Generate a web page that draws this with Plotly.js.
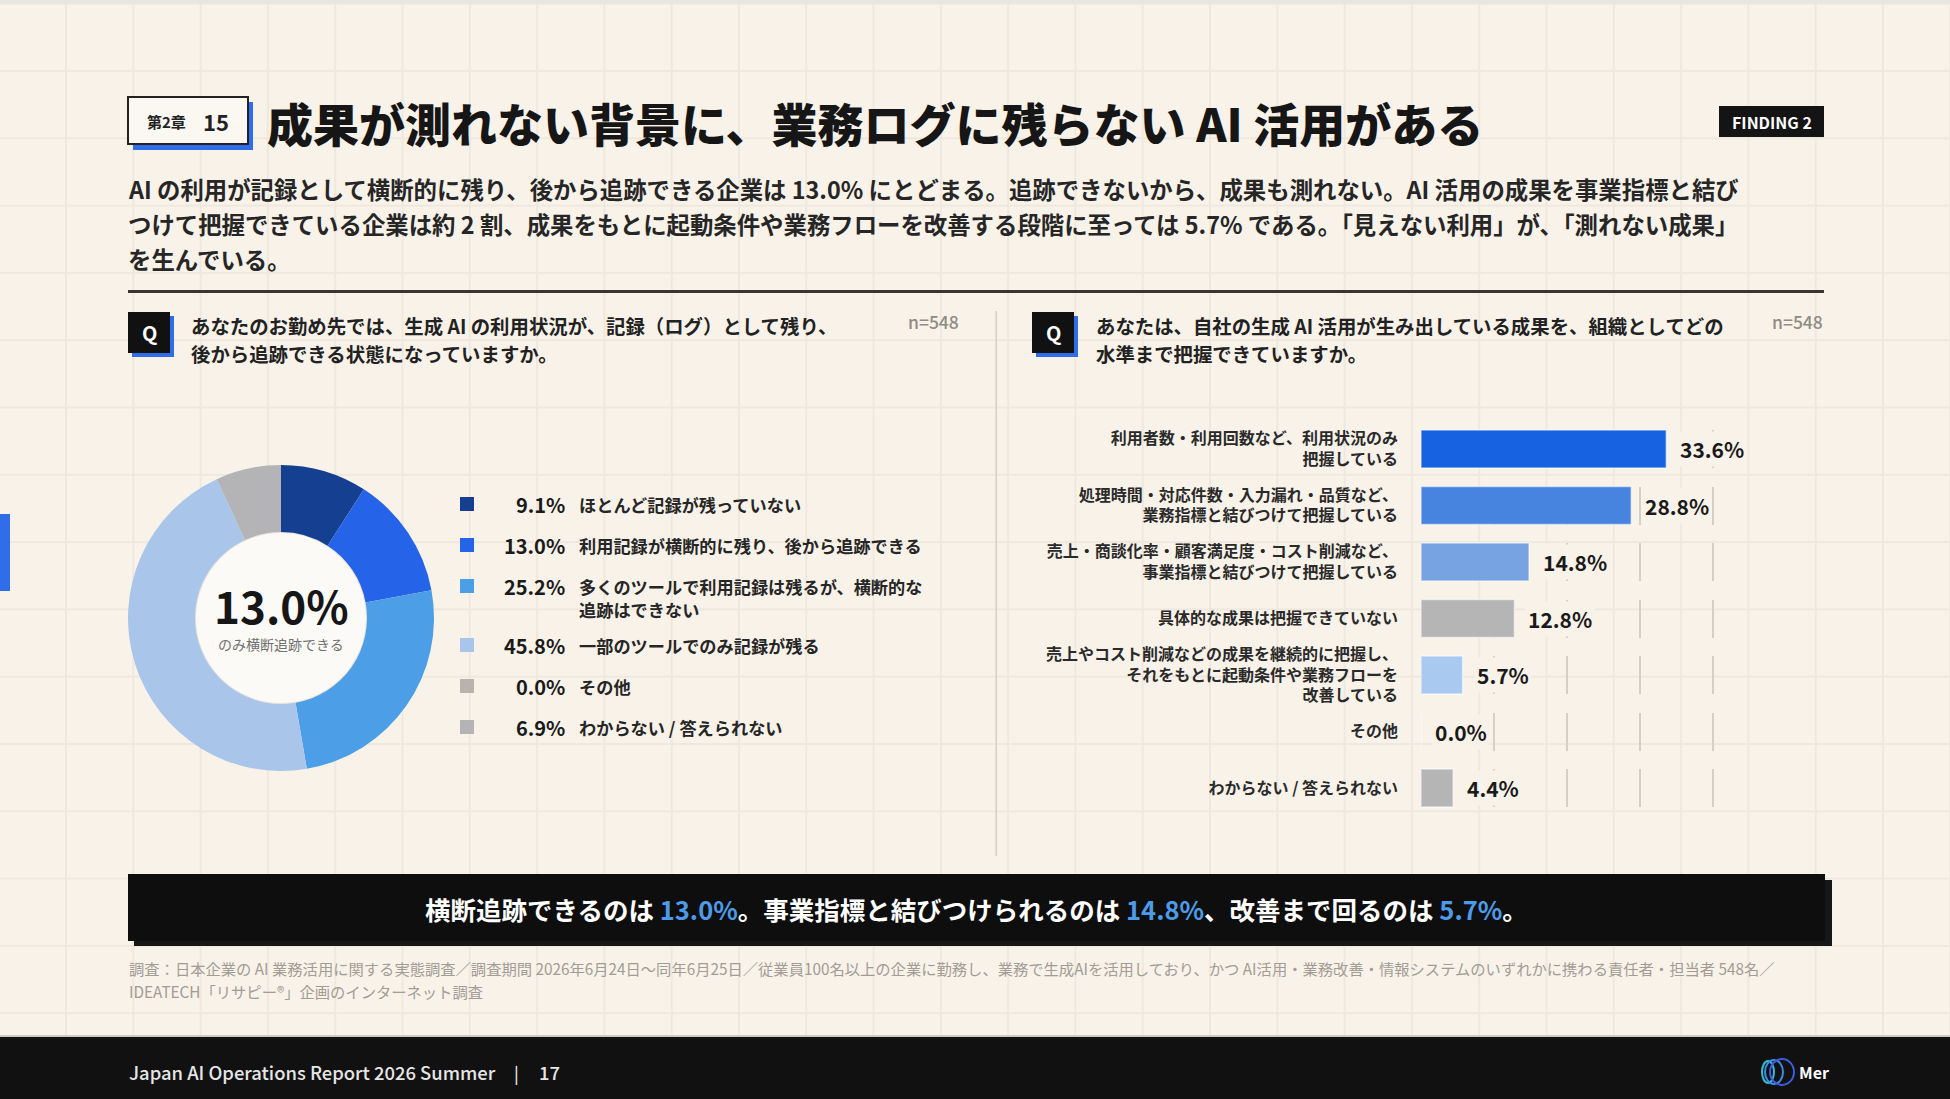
<!DOCTYPE html>
<html>
<head>
<meta charset="utf-8">
<script src="https://cdn.plot.ly/plotly-3.0.1.min.js"></script>
<style>
  html, body { margin:0; padding:0; }
  body {
    width:1950px; height:1099px; overflow:hidden;
    background-color:#f8f2e9;
    background-image:
      linear-gradient(to right, #efe8de 0, #efe8de 2px, transparent 2px),
      linear-gradient(to bottom, #efe8de 0, #efe8de 2px, transparent 2px);
    background-size:67.3px 67.3px;
    background-position:65px 70px;
  }
  #chart { width:1950px; height:1099px; }
</style>
</head>
<body>
<div id="chart"></div>
<script>
// ---------- data ----------
const donutLabels = ['ほとんど記録が残っていない', '利用記録が横断的に残り、後から追跡できる', '多くのツールで利用記録は残るが、横断的な\n追跡はできない', '一部のツールでのみ記録が残る', 'その他', 'わからない / 答えられない'];
const donutValues = [9.1, 13.0, 25.2, 45.8, 0.0, 6.9];
const donutColors = ['#153f91', '#2563e8', '#4c9fe6', '#a9c6ea', '#b8b3ad', '#b4b4b6'];

const barLabels = [
  '利用者数・利用回数など、利用状況のみ<br>把握している',
  '処理時間・対応件数・入力漏れ・品質など、<br>業務指標と結びつけて把握している',
  '売上・商談化率・顧客満足度・コスト削減など、<br>事業指標と結びつけて把握している',
  '具体的な成果は把握できていない',
  '売上やコスト削減などの成果を継続的に把握し、<br>それをもとに起動条件や業務フローを<br>改善している',
  'その他',
  'わからない / 答えられない'
];
const barValues = [33.6, 28.8, 14.8, 12.8, 5.7, 0.0, 4.4];
const barColors = ['#1762e0', '#4684e0', '#78a3e3', '#b5b5b5', '#a9c9f1', '#b5b5b5', '#b5b5b5'];

const xTicks = [0, 10, 20, 30, 40];

// ---------- helpers ----------
const W = 1950, H = 1099;
const PX = x => x / W;
const PY = y => 1 - y / H;
const FONT = '"Noto Sans CJK JP", "Noto Sans", sans-serif';
const shapes = [];
const anns = [];
function rect(x0, y0, x1, y1, fill, line) {
  shapes.push({type:'rect', xref:'paper', yref:'paper', x0:PX(x0), x1:PX(x1), y0:PY(y1), y1:PY(y0),
    fillcolor:fill, line: line || {width:0}, layer:'below'});
}
function circ(cx, cy, rx, ry, fill, line, layer) {
  shapes.push({type:'circle', xref:'paper', yref:'paper', x0:PX(cx-rx), x1:PX(cx+rx), y0:PY(cy+ry), y1:PY(cy-ry),
    fillcolor:fill, line: line || {width:0}, layer: layer || 'above'});
}
function ann(x, y, text, size, color, o) {
  o = o || {};
  anns.push(Object.assign({xref:'paper', yref:'paper', x:PX(x), y:PY(y), text:text, showarrow:false,
    xanchor:o.xa || 'left', yanchor:o.ya || 'middle', align:o.align || 'left',
    font:{family:FONT, size:size, color:color, weight:o.w || 400}}, o.extra || {}));
}
const pct = v => v.toFixed(1) + '%';

// ---------- page chrome ----------
rect(0, 0, W, 4, '#e8e6e3');
// chapter box
rect(133, 102, 253, 150, '#2f6ee8');
rect(128, 97, 248, 144, '#fbf8f2', {color:'#222', width:2});
ann(145, 122, '第2章', 15, '#222', {w:700});
ann(201, 121, '15', 22, '#222', {w:700});
// title
ann(265, 122, '成果が測れない背景に、業務ログに残らない AI 活用がある', 46, '#161616', {w:900});
// finding tag
rect(1719, 106, 1824, 137, '#141414');
ann(1771.5, 121.5, 'FINDING 2', 16, '#ffffff', {xa:'center', w:700});
// lead paragraph
const lead = [
  'AI の利用が記録として横断的に残り、後から追跡できる企業は ' + pct(donutValues[1]) + ' にとどまる。追跡できないから、成果も測れない。AI 活用の成果を事業指標と結び',
  'つけて把握できている企業は約 2 割、成果をもとに起動条件や業務フローを改善する段階に至っては ' + pct(barValues[4]) + ' である。「見えない利用」が、「測れない成果」',
  'を生んでいる。'
];
lead.forEach((t, i) => ann(126, 189 + i * 35, t, 23.4, '#262626', {w:700}));
// rule
rect(128, 290, 1824, 293, '#3a3530');
// divider
rect(995.5, 311, 997, 856, '#d3cec6');

// question blocks
function qblock(x, tx, lines, nx) {
  rect(x + 4, 316, x + 46, 357, '#2f6ee8');
  rect(x, 312, x + 42, 353, '#111111');
  ann(x + 21, 333, 'Q', 20, '#ffffff', {xa:'center', w:700});
  lines.forEach((t, i) => ann(tx, 326 + i * 27, t, 19.4, '#222', {w:700}));
  ann(nx, 322, 'n=548', 17.5, '#8f8b85', {xa:'right', w:500});
}
qblock(128, 189, ['あなたのお勤め先では、生成 AI の利用状況が、記録（ログ）として残り、', '後から追跡できる状態になっていますか。'], 961);
qblock(1032, 1094, ['あなたは、自社の生成 AI 活用が生み出している成果を、組織としてどの', '水準まで把握できていますか。'], 1825);

// left blue tab
rect(0, 514, 10, 591, '#2f6ee8');

// donut hole disk + center text
circ(281, 618, 86, 86, '#fcfaf6', {color:'#e9e3d9', width:2}, 'below');
ann(281, 605, pct(donutValues[1]), 44, '#161616', {xa:'center', w:700});
ann(281, 644, 'のみ横断追跡できる', 14, '#707070', {xa:'center', w:400});

// custom legend
let ly = 504;
donutLabels.forEach((lab, i) => {
  const lines = lab.split('\n');
  shapes.push({type:'rect', xref:'paper', yref:'paper', x0:PX(460), x1:PX(474), y0:PY(ly + 7), y1:PY(ly - 7),
    fillcolor:donutColors[i], line:{width:0}});
  ann(567, ly, pct(donutValues[i]), 20, '#1a1a1a', {xa:'right', w:700});
  lines.forEach((t, j) => ann(577, ly + j * 23, t, 17.2, '#262626', {w:600}));
  ly += 41 + (lines.length - 1) * 18;
});

// bar value labels
barValues.forEach((v, i) => {
  anns.push({xref:'x', yref:'y', x:v, y:barLabels[i], text:pct(v), showarrow:false, xanchor:'left', yanchor:'middle',
    xshift:11, bgcolor:'#f8f2e9', borderpad:2, font:{family:FONT, size:21, color:'#1a1a1a', weight:700}});
});

// bottom banner
rect(134, 880, 1832, 946, '#171717');
rect(128, 874, 1825, 941, '#0e0e0e');
const hl = v => '<span style="color:#4d9be8">' + pct(v) + '</span>';
ann(976, 908, '横断追跡できるのは ' + hl(donutValues[1]) + '。事業指標と結びつけられるのは ' + hl(barValues[2]) + '、改善まで回るのは ' + hl(barValues[4]) + '。', 25.5, '#ffffff', {xa:'center', align:'center', w:700});

// footnote
ann(127, 968, '調査：日本企業の AI 業務活用に関する実態調査／調査期間 2026年6月24日～同年6月25日／従業員100名以上の企業に勤務し、業務で生成AIを活用しており、かつ AI活用・業務改善・情報システムのいずれかに携わる責任者・担当者 548名／', 15.3, '#a29c95', {w:400});
ann(127, 991, 'IDEATECH「リサピー®」企画のインターネット調査', 15.3, '#a29c95', {w:400});

// footer
rect(0, 1035, W, 1037, '#cfcac3');
rect(0, 1037, W, H, '#111111');
ann(127, 1072, 'Japan AI Operations Report 2026 Summer', 18.4, '#e6e6e6', {w:500});
ann(516, 1072, '|', 17, '#e6e6e6', {xa:'center', w:500});
ann(537, 1072, '17', 18.4, '#e6e6e6', {w:500});
circ(1768, 1072, 6, 11, 'rgba(0,0,0,0)', {color:'#3bb8d8', width:2});
circ(1774, 1072, 9, 12, 'rgba(0,0,0,0)', {color:'#3a8fe0', width:2});
circ(1782, 1072, 12, 13, 'rgba(0,0,0,0)', {color:'#3d5de0', width:2});
ann(1797, 1072, 'Mer', 16, '#ffffff', {w:700});

// ---------- traces ----------
const donut = {
  type:'pie', values:donutValues, labels:donutLabels, sort:false, direction:'clockwise', rotation:0,
  hole:0.562, marker:{colors:donutColors, line:{width:0}}, textinfo:'none', hoverinfo:'skip', showlegend:false,
  domain:{x:[PX(128), PX(434)], y:[PY(771), PY(465)]}
};
const bars = {
  type:'bar', orientation:'h', x:barValues, y:barLabels, marker:{color:barColors, line:{color:'rgba(255,255,255,0.55)', width:1.5}},
  width:0.67, hoverinfo:'skip', showlegend:false, cliponaxis:false
};

const bx0 = 1421, unit = 7.3, xmax = 41;
const yTop = 420.75, yBot = 816.25;
const layout = {
  width:W, height:H, margin:{l:0, r:0, t:0, b:0},
  paper_bgcolor:'rgba(0,0,0,0)', plot_bgcolor:'rgba(0,0,0,0)',
  font:{family:FONT},
  showlegend:false,
  xaxis:{domain:[PX(bx0), PX(bx0 + xmax * unit)], range:[0, xmax], tickvals:xTicks, showticklabels:false,
    showgrid:true, gridcolor:'#d4cfc7', gridwidth:1.5, griddash:'0px,9.25px,38px,9.25px', zeroline:false, showline:false, fixedrange:true},
  yaxis:{domain:[PY(yBot), PY(yTop)], autorange:'reversed', type:'category', ticks:'', ticklabelstandoff:22,
    tickfont:{family:FONT, size:16, color:'#2a2a2a', weight:600}, showgrid:false, zeroline:false, showline:false, fixedrange:true},
  shapes:shapes, annotations:anns
};

Plotly.newPlot('chart', [donut, bars], layout, {displayModeBar:false, staticPlot:true});
</script>
</body>
</html>
